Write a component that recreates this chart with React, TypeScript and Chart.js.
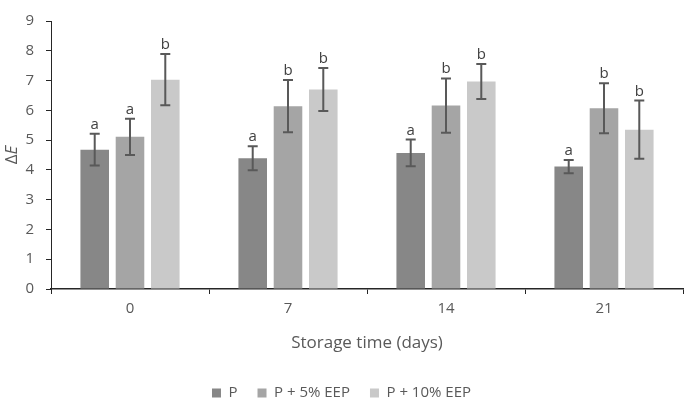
import React, { useEffect, useRef } from "react";
import { Chart, registerables } from "chart.js";

Chart.register(...registerables);

const categories = ["0", "7", "14", "21"];
const seriesNames = ["P", "P + 5% EEP", "P + 10% EEP"];
const valuesP = [4.68, 4.39, 4.57, 4.11];
const valuesP5 = [5.11, 6.14, 6.16, 6.07];
const valuesP10 = [7.03, 6.70, 6.97, 5.35];
const sdP = [0.53, 0.40, 0.45, 0.22];
const sdP5 = [0.61, 0.88, 0.91, 0.84];
const sdP10 = [0.86, 0.72, 0.59, 0.98];
const lettersP = ["a", "a", "a", "a"];
const lettersP5 = ["a", "b", "b", "b"];
const lettersP10 = ["b", "b", "b", "b"];
const yTicks = [0, 1, 2, 3, 4, 5, 6, 7, 8, 9];

const colors = ["#878787", "#a5a5a5", "#c9c9c9"];
const FONT = "'Open Sans', sans-serif";

const sds = [sdP, sdP5, sdP10];
const letters = [lettersP, lettersP5, lettersP10];

const errorBarPlugin = {
  id: "errorBars",
  afterDatasetsDraw(chart: any) {
    const ctx = chart.ctx;
    const yScale = chart.scales.y;
    chart.data.datasets.forEach((ds: any, i: number) => {
      const meta = chart.getDatasetMeta(i);
      meta.data.forEach((el: any, j: number) => {
        const v = ds.data[j];
        const sd = sds[i][j];
        const yTop = yScale.getPixelForValue(v + sd);
        const yBot = yScale.getPixelForValue(v - sd);
        const x = el.x;
        ctx.save();
        ctx.strokeStyle = "#595959";
        ctx.lineWidth = 2;
        ctx.beginPath();
        ctx.moveTo(x, yTop);
        ctx.lineTo(x, yBot);
        ctx.moveTo(x - 5, yTop);
        ctx.lineTo(x + 5, yTop);
        ctx.moveTo(x - 5, yBot);
        ctx.lineTo(x + 5, yBot);
        ctx.stroke();
        ctx.fillStyle = "#404040";
        ctx.font = `15px ${FONT}`;
        ctx.textAlign = "center";
        ctx.textBaseline = "alphabetic";
        ctx.fillText(letters[i][j], x, yTop - 5);
        ctx.restore();
      });
    });
  },
};

const yTitlePlugin = {
  id: "yTitle",
  afterDraw(chart: any) {
    const ctx = chart.ctx;
    const yScale = chart.scales.y;
    const cy = (yScale.top + yScale.bottom) / 2;
    ctx.save();
    ctx.translate(17, cy);
    ctx.rotate(-Math.PI / 2);
    ctx.fillStyle = "#595959";
    ctx.textBaseline = "alphabetic";
    ctx.font = `17px ${FONT}`;
    const d = "Δ";
    const e = "E";
    const wd = ctx.measureText(d).width;
    ctx.font = `italic 17px ${FONT}`;
    const we = ctx.measureText(e).width;
    const start = -(wd + we) / 2;
    ctx.font = `17px ${FONT}`;
    ctx.textAlign = "left";
    ctx.fillText(d, start, 0);
    ctx.font = `italic 17px ${FONT}`;
    ctx.fillText(e, start + wd, 0);
    ctx.restore();
  },
};

export default function App() {
  const canvasRef = useRef<HTMLCanvasElement | null>(null);

  useEffect(() => {
    if (!canvasRef.current) return;
    const chart = new Chart(canvasRef.current, {
      type: "bar",
      data: {
        labels: categories,
        datasets: [valuesP, valuesP5, valuesP10].map((d, i) => ({
          label: seriesNames[i],
          data: d,
          backgroundColor: colors[i],
          borderWidth: 0,
          categoryPercentage: 0.67,
          barPercentage: 0.81,
        })),
      },
      options: {
        animation: false,
        responsive: true,
        maintainAspectRatio: false,
        layout: { padding: { left: 0, right: 2, top: 6, bottom: -7.5 } },
        plugins: {
          legend: {
            position: "bottom",
            labels: {
              boxWidth: 9,
              boxHeight: 9,
              padding: 20,
              color: "#595959",
              font: { family: FONT, size: 15 },
            },
          },
          tooltip: { enabled: false },
        },
        scales: {
          x: {
            afterFit(scale: any) {
              scale.height = 76.5;
            },
            grid: {
              display: true,
              drawOnChartArea: false,
              drawTicks: true,
              tickLength: 5,
              color: "#262626",
              offset: true,
            },
            border: { display: true, color: "#262626", width: 1.5 },
            ticks: {
              color: "#595959",
              font: { family: FONT, size: 15 },
              padding: 6,
            },
            title: {
              display: true,
              text: "Storage time (days)",
              color: "#595959",
              font: { family: FONT, size: 17 },
              padding: { top: 12, bottom: 12 },
            },
          },
          y: {
            min: 0,
            max: 9,
            afterFit(scale: any) {
              scale.width = 51;
            },
            afterBuildTicks(scale: any) {
              scale.ticks = yTicks.map((v) => ({ value: v }));
            },
            grid: {
              display: true,
              drawOnChartArea: false,
              drawTicks: true,
              tickLength: 5,
              color: "#262626",
            },
            border: { display: true, color: "#262626", width: 1 },
            ticks: {
              color: "#595959",
              font: { family: FONT, size: 15 },
              padding: 12,
            },
          },
        },
      },
      plugins: [errorBarPlugin, yTitlePlugin],
    });
    return () => chart.destroy();
  }, []);

  return (
    <div style={{ position: "absolute", left: 0, top: 0, width: 685, height: 403, background: "#fff" }}>
      <canvas ref={canvasRef} />
    </div>
  );
}
